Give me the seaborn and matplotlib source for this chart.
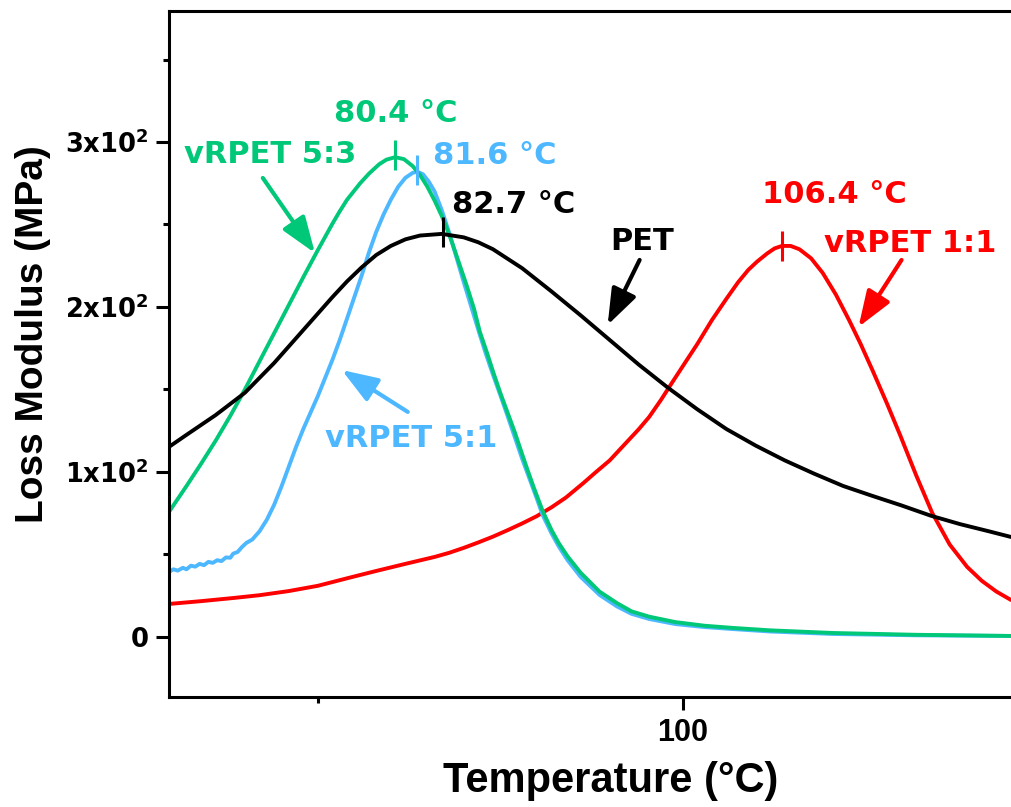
import numpy as np
import pandas as pd
import seaborn as sns
import matplotlib
matplotlib.use("Agg")
import matplotlib.pyplot as plt
from matplotlib.ticker import FixedLocator, FixedFormatter
from matplotlib import font_manager

# ---------------- data ----------------
temp_pet = [64.8, 66.0, 68.0, 70.0, 72.0, 74.0, 76.0, 77.0, 78.0, 79.0, 80.0, 81.0, 82.0,
            83.5, 85.0, 86.0, 87.0, 89.0, 91.0, 93.0, 95.0, 97.0, 99.0, 101.0, 103.0, 105.0,
            107.0, 109.0, 111.0, 113.0, 115.0, 117.0, 119.0, 121.0, 122.5]
val_pet = [115.2, 122.5, 134.5, 148.0, 166.0, 186.0, 206.0, 215.5, 224.0, 231.5, 237.0, 241.0,
           243.3, 244.3, 242.2, 239.2, 235.0, 223.5, 209.5, 195.0, 180.0, 165.0, 151.0, 138.0,
           126.0, 116.0, 107.0, 99.0, 91.5, 85.5, 79.7, 73.5, 68.4, 64.0, 60.6]

temp_53 = [64.8, 66.0, 67.0, 68.0, 69.0, 70.0, 71.0, 72.0, 73.0, 74.0, 75.0, 76.0, 76.5,
           77.0, 77.9, 78.5, 79.2, 79.7, 80.3, 80.9, 81.5, 82.0, 82.5, 83.0, 83.5, 83.8,
           84.2, 84.7, 85.2, 85.7, 86.1, 86.6, 87.0, 87.5, 88.0, 88.5, 88.8, 89.3, 89.8,
           90.4, 91.0, 91.5, 92.1, 93.0, 94.3, 95.5, 96.5, 97.7, 99.5, 101.5, 103.4, 106.0,
           110.3, 116.0, 122.5]
val_53 = [75.8, 91.5, 105.0, 119.0, 134.0, 150.0, 167.0, 184.0, 201.0, 218.0, 234.5, 250.5,
          258.0, 265.0, 275.0, 280.8, 286.5, 289.3, 290.8, 289.6, 285.4, 280.0, 273.0, 264.5,
          255.0, 248.5, 239.0, 226.0, 213.0, 199.0, 185.0, 172.0, 161.0, 148.0, 136.0, 124.0,
          116.0, 103.0, 90.5, 76.5, 65.0, 57.0, 49.0, 39.0, 27.5, 20.5, 15.5, 12.3, 9.0, 6.8,
          5.5, 4.0, 2.4, 1.3, 0.6]

temp_51 = [64.8, 65.1, 65.4, 65.75, 66.0, 66.3, 66.6, 66.9, 67.2, 67.5, 67.8, 68.1, 68.4,
           68.7, 69.0, 69.2, 69.5, 69.8, 70.1, 70.5, 71.0, 71.5, 72.0, 72.5, 73.0, 73.5,
           74.0, 74.5, 75.0, 75.5, 76.0, 76.5, 77.0, 77.5, 78.0, 78.5, 79.0, 79.5, 80.0,
           80.5, 81.0, 81.5, 81.8, 82.2, 82.6, 83.0, 83.5, 84.0, 84.5, 85.0, 85.5, 86.0,
           86.5, 87.0, 87.5, 88.0, 88.5, 89.0, 89.5, 90.0, 90.4, 91.0, 91.5, 92.1, 93.0,
           94.3, 95.5, 96.5, 97.7, 99.5, 101.5, 103.4, 106.0, 110.3, 116.0, 122.5]
val_51 = [39.4, 41.0, 40.2, 41.9, 41.0, 43.2, 42.6, 44.3, 43.5, 45.5, 44.9, 46.5, 46.0,
          48.2, 48.0, 50.5, 51.5, 54.5, 57.0, 59.0, 64.0, 71.0, 80.0, 91.0, 103.0, 115.0,
          126.0, 136.0, 146.0, 157.0, 168.0, 180.0, 193.0, 206.0, 219.0, 233.0, 245.5, 256.0,
          265.0, 272.8, 278.3, 281.3, 282.0, 280.5, 276.0, 270.0, 258.5, 245.0, 230.0, 215.0,
          200.5, 186.0, 172.0, 159.0, 146.7, 134.0, 121.0, 108.0, 96.0, 84.0, 74.0, 63.0, 55.0,
          46.7, 36.5, 25.5, 18.5, 14.0, 10.9, 7.8, 6.0, 4.8, 3.3, 1.8, 1.0, 0.6]

temp_11 = [64.8, 67.0, 69.2, 71.0, 73.0, 75.0, 77.2, 79.0, 81.0, 83.0, 84.0, 85.0, 86.0,
           87.0, 88.0, 89.0, 90.0, 91.0, 92.0, 93.2, 94.0, 95.0, 96.0, 97.0, 97.7,
           98.5, 99.3, 100.0, 101.0, 102.0, 103.0, 103.8, 104.5, 105.1, 105.8, 106.3, 106.8,
           107.4, 108.0, 108.8, 109.6, 110.5, 111.4, 112.2, 113.0, 114.0, 114.9, 116.0, 117.1,
           118.3, 119.5, 120.5, 121.5, 122.5]
val_11 = [20.0, 21.7, 23.6, 25.3, 27.8, 31.0, 36.0, 40.0, 44.3, 48.5, 51.0, 54.0, 57.3,
          60.8, 64.7, 68.8, 73.2, 78.5, 84.5, 93.3, 99.5, 107.0, 116.5, 126.0, 133.3,
          143.5, 154.5, 164.0, 177.5, 192.0, 205.0, 215.0, 222.5, 227.5, 232.5, 235.5, 237.0,
          237.0, 235.0, 229.5, 220.6, 207.5, 192.1, 177.5, 161.8, 141.5, 122.4, 98.0, 75.2,
          56.0, 42.4, 34.0, 27.5, 22.4]

series = ["vRPET 1:1", "vRPET 5:1", "vRPET 5:3", "PET"]
colors = ["#FF0000", "#4DB8FF", "#00C878", "#000000"]
peak_T = [106.8, 81.8, 80.3, 83.56]
peak_val = [237.0, 283.0, 292.0, 245.2]

y_ticks = [0, 100, 200, 300]
y_ticklabels = ["0", r"$\mathbf{1x10^{2}}$", r"$\mathbf{2x10^{2}}$", r"$\mathbf{3x10^{2}}$"]
y_minor = [50, 150, 250, 350]
x_ticks = [100]
x_ticklabels = ["100"]
x_minor = [75]

# ---------------- style ----------------
sns.set_theme(style="ticks")
plt.rcParams["font.family"] = ["DejaVu Sans"]
plt.rcParams["mathtext.fontset"] = "dejavusans"
plt.rcParams.update({"text.color": "black", "axes.labelcolor": "black",
                     "xtick.color": "black", "ytick.color": "black"})

names = {f.name for f in font_manager.fontManager.ttflist}
if "Liberation Sans Narrow" in names:
    ylab_font, ylab_size = "Liberation Sans Narrow", 34.5
else:
    ylab_font, ylab_size = "Liberation Sans", 28

fig = plt.figure(figsize=(10.11, 8.07), dpi=100)
ax = fig.add_axes([169 / 1011, 1 - 697 / 807, (1011 - 169) / 1011, (697 - 11) / 807])

frames = []
for name, t, v in [("vRPET 1:1", temp_11, val_11), ("vRPET 5:1", temp_51, val_51),
                   ("vRPET 5:3", temp_53, val_53), ("PET", temp_pet, val_pet)]:
    frames.append(pd.DataFrame({"T": t, "E": v, "sample": name}))
df = pd.concat(frames, ignore_index=True)

for name, col in zip(series, colors):
    sns.lineplot(data=df[df["sample"] == name], x="T", y="E", color=col,
                 linewidth=2.8, sort=False, estimator=None, ax=ax, legend=False)

for T, v, col in zip(peak_T, peak_val, colors):
    ax.plot([T], [v], marker="|", markersize=21, markeredgewidth=2.2,
            color=col, linestyle="none")

ax.set_xlim(64.8, 122.5)
ax.set_ylim(-36.4, 379.4)

ax.yaxis.set_major_locator(FixedLocator(y_ticks))
ax.yaxis.set_major_formatter(FixedFormatter(y_ticklabels))
ax.yaxis.set_minor_locator(FixedLocator(y_minor))
ax.xaxis.set_major_locator(FixedLocator(x_ticks))
ax.xaxis.set_major_formatter(FixedFormatter(x_ticklabels))
ax.xaxis.set_minor_locator(FixedLocator(x_minor))

ax.tick_params(which="major", direction="out", length=9.4, width=2.2, color="black")
ax.tick_params(which="minor", direction="out", length=4.3, width=2.2, color="black")
ax.tick_params(axis="y", which="major", pad=5.5)
ax.tick_params(axis="x", which="major", pad=6)
for lab in ax.get_yticklabels():
    lab.set_fontsize(18.5)
    lab.set_fontweight("bold")
    lab.set_family("DejaVu Sans")
    lab.set_color("black")
for lab in ax.get_xticklabels():
    lab.set_fontsize(22)
    lab.set_fontweight("bold")
    lab.set_family("Liberation Sans")
    lab.set_color("black")

for s in ["left", "bottom", "top"]:
    ax.spines[s].set_linewidth(2.2)
    ax.spines[s].set_color("black")
ax.spines["right"].set_visible(False)

ax.set_xlabel("Temperature (°C)", fontsize=30, fontweight="bold", color="black",
              family="Liberation Sans", va="center", ha="center")
ax.xaxis.set_label_coords(0.525, -0.1219)
ax.set_ylabel("Loss Modulus (MPa)", fontsize=ylab_size, fontweight="bold", color="black",
              family=ylab_font, va="center", ha="center")
ax.yaxis.set_label_coords(-0.1615, 0.529)

# ---------------- annotations ----------------
tfont = dict(fontsize=22, fontweight="bold", family="DejaVu Sans", ha="center", va="baseline")
ax.text(80.31, 312.3, "80.4 °C", color=colors[2], **tfont)
ax.text(87.12, 286.7, "81.6 °C", color=colors[1], **tfont)
ax.text(88.42, 257.0, "82.7 °C", color=colors[3], **tfont)
ax.text(110.41, 263.0, "106.4 °C", color=colors[0], **tfont)
ax.text(71.71, 287.1, "vRPET 5:3", color=colors[2], **tfont)
ax.text(97.23, 234.5, "PET", color=colors[3], **tfont)
ax.text(115.62, 233.3, "vRPET 1:1", color=colors[0], **tfont)
ax.text(81.4, 115.2, "vRPET 5:1", color=colors[1], **tfont)

arrows = [((71.23, 278.2), (74.8, 232.7), colors[2]),
          ((97.05, 228.5), (94.86, 189.1), colors[3]),
          ((115.0, 228.5), (112.05, 187.9), colors[0]),
          ((81.16, 136.4), (76.64, 161.8), colors[1])]
for tail, tip, col in arrows:
    ax.annotate("", xy=tip, xytext=tail,
                arrowprops=dict(arrowstyle="-|>,head_length=1.1,head_width=0.4",
                                lw=3, color=col, shrinkA=0, shrinkB=0,
                                mutation_scale=20))

fig.savefig("out.png", dpi=100, facecolor="white")
